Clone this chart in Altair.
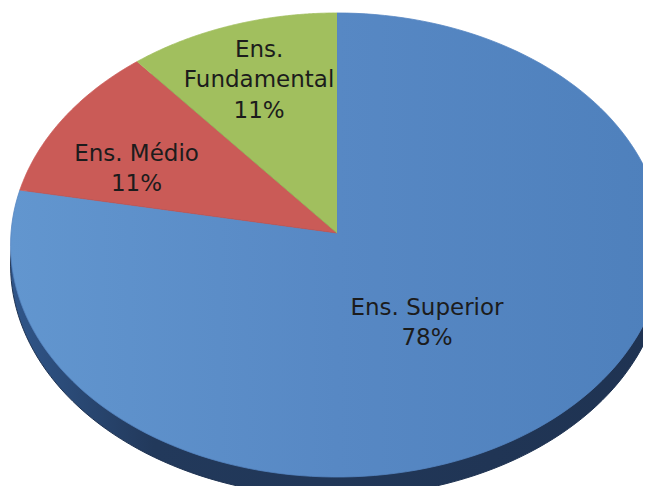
import altair as alt
import pandas as pd

# ---- data ----
categories = ["Ens. Superior", "Ens. Médio", "Ens. Fundamental"]
values = [78, 11, 11]
label_names = ["Ens. Superior", "Ens. Médio", "Ens.\nFundamental"]
order_idx = [0, 1, 2]

df = pd.DataFrame({"cat": categories, "value": values,
                   "name": label_names, "idx": order_idx})

# ---- layout / style (pixels) ----
W, H = 635, 478
CX, CY = 337, 233          # pie centre on the page
RX, RY = 326, 231.4        # radii of the projected disc
K = 0.0517                 # perspective factor
DEPTH = 20                 # thickness of the 3D side
N = 160                    # points per slice outline

x_scale = alt.Scale(domain=[8 - CX, 8 + W - CX], nice=False, zero=False)
y_scale = alt.Scale(domain=[CY - 8 - H, CY - 8], nice=False, zero=False)

base = (
    alt.Chart(df)
    .transform_joinaggregate(total="sum(value)")
    .transform_window(cum="sum(value)", sort=[alt.SortField("idx")], frame=[None, 0])
    .transform_calculate(
        a0="2*PI*(datum.cum - datum.value)/datum.total",
        a1="2*PI*datum.cum/datum.total",
    )
)

outline = (
    base.transform_calculate(k=f"sequence(-1, {N + 1})")
    .transform_flatten(["k"])
    .transform_calculate(
        ang=f"datum.a0 + (datum.a1 - datum.a0) * max(datum.k, 0) / {N}",
        rr="datum.k < 0 ? 0 : 1",
    )
    .transform_calculate(
        px=f"{RX} * datum.rr * sin(datum.ang) / (1 + {K} * datum.rr * cos(datum.ang))",
        py=f"{RY} * datum.rr * cos(datum.ang) / (1 + {K} * datum.rr * cos(datum.ang))",
    )
)

enc = dict(
    x=alt.X("px:Q", scale=x_scale, axis=None),
    y=alt.Y("py:Q", scale=y_scale, axis=None),
    order=alt.Order("k:Q"),
    detail="cat:N",
)

side_grad = alt.Gradient(
    gradient="linear", x1=0, y1=0, x2=1, y2=0,
    stops=[alt.GradientStop(color="#30568A", offset=0),
           alt.GradientStop(color="#22395B", offset=0.22),
           alt.GradientStop(color="#1F3352", offset=1)],
)
blue_grad = alt.Gradient(
    gradient="linear", x1=0, y1=0, x2=1, y2=0,
    stops=[alt.GradientStop(color="#6296CF", offset=0),
           alt.GradientStop(color="#5788C4", offset=0.5),
           alt.GradientStop(color="#4E80BC", offset=1)],
)

side = outline.mark_line(fill=side_grad, stroke="#1F3352", strokeWidth=1,
                         yOffset=DEPTH).encode(**enc)

face_fills = {
    "Ens. Superior": (blue_grad, "#5585C1"),
    "Ens. Médio": ("#CA5B57", "#CA5B57"),
    "Ens. Fundamental": ("#A1BF5E", "#A1BF5E"),
}
faces = []
for c in categories:
    f, s = face_fills[c]
    faces.append(
        outline.transform_filter(alt.datum.cat == c)
        .mark_line(fill=f, stroke=s, strokeWidth=0.8)
        .encode(**enc)
    )

label_offsets = {
    "Ens. Superior": (-16, -9),
    "Ens. Médio": (-62, -14),
    "Ens. Fundamental": (-24, -70),
}
LR = 0.5
texts = []
for c in categories:
    dx, dy = label_offsets[c]
    texts.append(
        base.transform_filter(alt.datum.cat == c)
        .transform_calculate(
            mid="(datum.a0 + datum.a1)/2",
        )
        .transform_calculate(
            lx=f"{RX} * {LR} * sin(datum.mid) / (1 + {K} * {LR} * cos(datum.mid))",
            ly=f"{RY} * {LR} * cos(datum.mid) / (1 + {K} * {LR} * cos(datum.mid))",
            label="datum.name + '\\n' + format(datum.value / datum.total, '.0%')",
        )
        .mark_text(lineBreak="\n", align="center", baseline="alphabetic",
                   dx=dx, dy=dy, fontSize=23, lineHeight=30.5,
                   font="DejaVu Sans", color="#1C1C1C")
        .encode(
            x=alt.X("lx:Q", scale=x_scale, axis=None),
            y=alt.Y("ly:Q", scale=y_scale, axis=None),
            text="label:N",
        )
    )

chart = (
    alt.layer(side, *faces, *texts)
    .properties(width=W, height=H, padding=0,
                autosize=alt.AutoSizeParams(type="none"),
                background="white")
    .configure_view(strokeWidth=0)
)

chart.save("out.html", embed_options={"renderer": "svg", "actions": False})
